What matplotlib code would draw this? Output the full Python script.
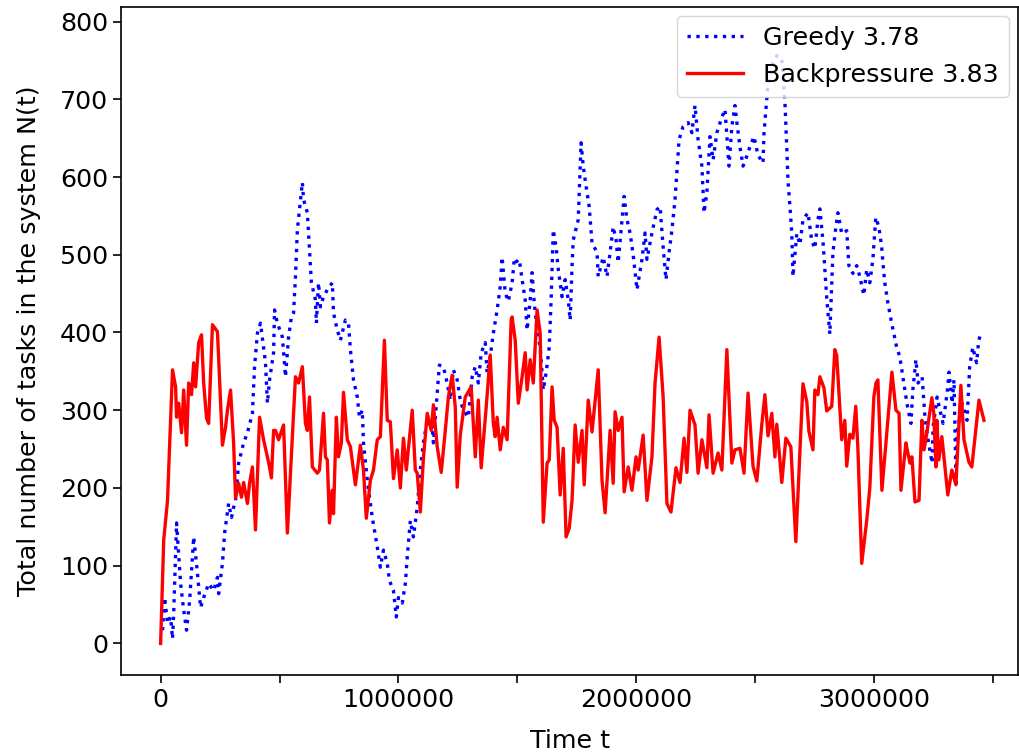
import matplotlib
matplotlib.use("Agg")
import matplotlib.pyplot as plt
import numpy as np

# time in thousands of steps, values = number of tasks N(t)
greedy_t = [8, 17, 29, 42, 50, 55, 67, 84, 97, 109, 122, 139, 155, 168, 181, 202, 223, 239, 244, 260,
            269, 286, 298, 307, 315, 328, 349, 365, 386, 395, 407, 420, 441, 449, 458, 475, 479, 491, 512, 525,
            538, 550, 559, 567, 575, 596, 601, 617, 626, 634, 651, 655, 664, 672, 685, 701, 722, 727, 743, 756,
            777, 790, 798, 811, 827, 836, 848, 853, 869, 890, 911, 924, 937, 953, 962, 979, 991, 1000, 1016, 1029,
            1037, 1050, 1063, 1079, 1092, 1105, 1121, 1142, 1147, 1163, 1172, 1189, 1205, 1218, 1231, 1247, 1260, 1273, 1294, 1310,
            1323, 1336, 1348, 1365, 1373, 1386, 1399, 1415, 1428, 1436, 1449, 1462, 1478, 1487, 1491, 1508, 1520, 1533, 1541, 1554,
            1562, 1571, 1583, 1596, 1609, 1621, 1634, 1642, 1651, 1663, 1672, 1688, 1701, 1714, 1722, 1730, 1735, 1756, 1768, 1777,
            1789, 1802, 1814, 1835, 1840, 1861, 1877, 1890, 1903, 1915, 1924, 1949, 1961, 1974, 1987, 2003, 2024, 2037, 2045, 2066,
            2087, 2100, 2113, 2125, 2138, 2150, 2163, 2180, 2197, 2218, 2234, 2247, 2260, 2276, 2285, 2297, 2310, 2323, 2339, 2360,
            2373, 2390, 2402, 2415, 2423, 2436, 2449, 2465, 2478, 2495, 2512, 2533, 2537, 2549, 2554, 2570, 2591, 2612, 2625, 2633,
            2638, 2646, 2654, 2659, 2675, 2688, 2701, 2722, 2738, 2751, 2764, 2772, 2785, 2793, 2801, 2814, 2827, 2839, 2848, 2864,
            2885, 2894, 2911, 2927, 2940, 2957, 2969, 2982, 2995, 3007, 3020, 3032, 3037, 3045, 3058, 3074, 3095, 3108, 3121, 3138,
            3155, 3163, 3176, 3185, 3202, 3214, 3227, 3244, 3248, 3265, 3277, 3290, 3307, 3315, 3328, 3336, 3345, 3349, 3370, 3391,
            3402, 3415, 3431, 3440, 3452]
greedy_n = [17, 59, 26, 34, 6, 39, 155, 77, 43, 17, 55, 137, 90, 46, 59, 77, 68, 85, 64, 103,
            142, 180, 162, 175, 184, 232, 258, 271, 296, 356, 399, 412, 361, 309, 339, 374, 429, 412, 394, 343,
            394, 420, 425, 472, 532, 593, 571, 554, 506, 464, 442, 412, 464, 433, 446, 455, 464, 425, 403, 390,
            416, 412, 378, 339, 317, 291, 300, 258, 210, 162, 124, 98, 120, 103, 81, 68, 34, 59, 52, 77,
            111, 158, 137, 175, 223, 258, 287, 278, 258, 322, 358, 356, 335, 313, 352, 339, 313, 300, 291, 343,
            356, 335, 374, 387, 348, 369, 399, 429, 459, 497, 451, 440, 464, 494, 490, 494, 468, 442, 403, 442,
            477, 438, 403, 381, 326, 348, 381, 442, 532, 510, 481, 446, 468, 442, 416, 485, 519, 545, 644, 614,
            588, 562, 515, 503, 472, 497, 472, 503, 536, 519, 490, 575, 545, 528, 500, 455, 494, 528, 494, 528,
            558, 562, 510, 468, 503, 532, 571, 648, 665, 670, 657, 692, 648, 614, 554, 580, 652, 622, 657, 677,
            687, 614, 665, 692, 670, 639, 614, 627, 639, 652, 628, 618, 656, 701, 720, 744, 756, 752, 697, 637,
            595, 563, 527, 472, 527, 513, 545, 554, 518, 508, 545, 559, 518, 481, 444, 398, 503, 535, 554, 527,
            531, 486, 476, 486, 472, 448, 481, 464, 494, 548, 536, 510, 490, 464, 438, 412, 381, 369, 343, 309,
            283, 326, 365, 335, 343, 291, 262, 232, 278, 317, 300, 283, 322, 349, 309, 339, 206, 271, 309, 287,
            356, 381, 361, 390, 401]

backpressure_t = [0, 13, 29, 50, 63, 67, 76, 88, 97, 109, 118, 130, 139, 147, 160, 172, 181, 193, 202, 218,
                  239, 260, 273, 281, 294, 307, 315, 328, 340, 349, 365, 374, 386, 399, 416, 433, 454, 466, 475, 483,
                  496, 517, 533, 567, 580, 596, 609, 617, 626, 638, 659, 668, 685, 693, 701, 710, 722, 727, 739, 748,
                  760, 769, 785, 798, 819, 840, 853, 865, 882, 895, 911, 924, 941, 953, 966, 979, 995, 1008, 1021, 1033,
                  1058, 1071, 1079, 1092, 1105, 1121, 1138, 1147, 1163, 1180, 1197, 1210, 1226, 1239, 1247, 1260, 1281, 1306, 1323, 1336,
                  1348, 1369, 1386, 1399, 1407, 1415, 1428, 1441, 1457, 1474, 1478, 1491, 1504, 1520, 1533, 1541, 1554, 1567, 1583, 1596,
                  1609, 1625, 1634, 1646, 1655, 1667, 1680, 1693, 1705, 1718, 1730, 1743, 1756, 1772, 1781, 1798, 1814, 1840, 1856, 1869,
                  1890, 1903, 1911, 1924, 1940, 1949, 1966, 1982, 1999, 2008, 2029, 2045, 2066, 2079, 2096, 2113, 2129, 2146, 2167, 2184,
                  2201, 2213, 2226, 2247, 2260, 2276, 2297, 2306, 2323, 2344, 2360, 2381, 2402, 2415, 2436, 2453, 2470, 2491, 2507, 2528,
                  2541, 2554, 2570, 2583, 2591, 2612, 2629, 2650, 2671, 2701, 2717, 2726, 2743, 2751, 2764, 2772, 2789, 2801, 2822, 2835,
                  2843, 2864, 2877, 2885, 2898, 2911, 2923, 2932, 2948, 2969, 2982, 2999, 3008, 3016, 3033, 3075, 3092, 3105, 3113, 3134,
                  3142, 3151, 3159, 3172, 3189, 3201, 3210, 3222, 3243, 3251, 3260, 3264, 3272, 3285, 3310, 3327, 3344, 3365, 3378, 3399,
                  3411, 3441, 3462]
backpressure_n = [0, 133, 184, 352, 330, 291, 309, 271, 326, 255, 335, 320, 361, 330, 387, 397, 335, 290, 283, 410,
                  401, 255, 278, 300, 326, 258, 187, 206, 188, 207, 180, 206, 227, 146, 291, 262, 233, 213, 274, 274,
                  262, 281, 142, 343, 335, 356, 283, 274, 317, 227, 219, 223, 296, 240, 236, 155, 197, 167, 291, 240,
                  258, 323, 262, 253, 204, 255, 223, 161, 210, 223, 262, 266, 390, 287, 285, 212, 249, 200, 264, 223,
                  300, 223, 219, 169, 238, 296, 274, 307, 253, 220, 274, 317, 345, 304, 201, 268, 317, 330, 240, 313,
                  226, 304, 371, 283, 266, 291, 249, 278, 262, 416, 420, 390, 309, 343, 374, 326, 365, 335, 429, 399,
                  156, 232, 236, 330, 287, 278, 191, 251, 137, 148, 184, 281, 233, 274, 204, 313, 272, 352, 210, 168,
                  274, 206, 298, 274, 291, 195, 227, 197, 240, 223, 268, 184, 240, 335, 394, 317, 180, 169, 226, 207,
                  264, 220, 300, 281, 219, 262, 226, 294, 219, 245, 223, 378, 232, 249, 251, 219, 322, 228, 209, 282,
                  320, 267, 296, 240, 282, 207, 264, 253, 131, 334, 311, 273, 249, 326, 320, 343, 329, 299, 305, 378,
                  370, 262, 287, 228, 269, 264, 305, 250, 103, 158, 200, 317, 335, 339, 197, 349, 300, 296, 197, 258,
                  245, 232, 240, 182, 184, 287, 249, 271, 316, 296, 227, 287, 236, 266, 191, 223, 204, 332, 262, 233,
                  227, 313, 287]

legend_labels = ["Greedy 3.78", "Backpressure 3.83"]
x_ticks = np.arange(0, 3500001, 500000)
x_tick_labels = ["0", "", "1000000", "", "2000000", "", "3000000", ""]

plt.rcParams["font.family"] = "DejaVu Sans"
plt.rcParams["font.size"] = 18.3

fig = plt.figure(figsize=(10.2, 7.52), dpi=100)
ax = fig.add_axes([0.119, 0.102, 0.879, 0.889])

ax.plot(np.array(greedy_t) * 1000, greedy_n, ":", color="b", lw=2.4, label=legend_labels[0])
ax.plot(np.array(backpressure_t) * 1000, backpressure_n, "-", color="r", lw=2.4, label=legend_labels[1])

ax.set_xticks(x_ticks)
ax.set_xticklabels(x_tick_labels)
ax.set_yticks(np.arange(0, 801, 100))
ax.set_xlim(-165000, 3605000)
ax.set_ylim(-41, 819)
ax.tick_params(length=6, width=1.2)
for s in ax.spines.values():
    s.set_linewidth(1.2)

ax.set_xlabel("Time t", labelpad=12)
ax.set_ylabel("Total number of tasks in the system N(t)", labelpad=14)
ax.legend(loc="upper right", handlelength=2.2, borderaxespad=0.35)

fig.savefig("out.png", dpi=100)
